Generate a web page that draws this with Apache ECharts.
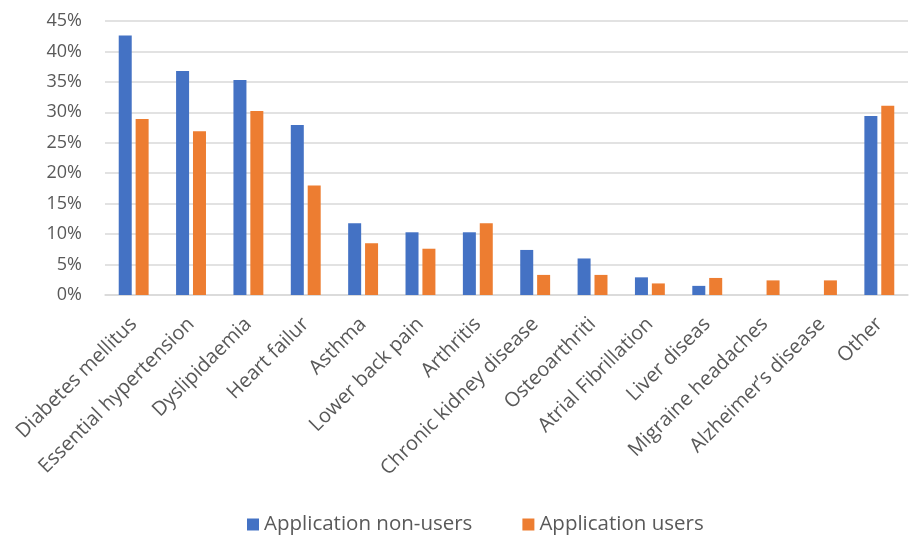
<!DOCTYPE html>
<html>
<head>
<meta charset="utf-8">
<title>Conditions by application use</title>
<script src="https://cdn.jsdelivr.net/npm/echarts@6/dist/echarts.min.js"></script>
<style>
  html, body { margin: 0; padding: 0; background: #fff; }
  #chart { width: 909px; height: 540px; }
</style>
</head>
<body>
<div id="chart"></div>
<script>
// categories on the x axis
var categories = [
  'Diabetes mellitus', 'Essential hypertension', 'Dyslipidaemia', 'Heart failur',
  'Asthma', 'Lower back pain', 'Arthritis', 'Chronic kidney disease',
  'Osteoarthriti', 'Atrial Fibrillation', 'Liver diseas', 'Migraine headaches',
  'Alzheimer\u2019s disease', 'Other'
];
// share of patients, in %
var nonUsers = [42.6, 36.8, 35.3, 27.9, 11.8, 10.3, 10.3, 7.4, 6.0, 2.9, 1.5, 0, 0, 29.4];
var users    = [28.9, 26.9, 30.2, 18.0, 8.5, 7.6, 11.8, 3.3, 3.3, 1.9, 2.8, 2.4, 2.4, 31.1];

var textColor = '#595959';
var fontName = 'Open Sans';

var chart = echarts.init(document.getElementById('chart'));

var option = {
  animation: false,
  backgroundColor: '#ffffff',
  textStyle: { fontFamily: fontName },
  grid: {
    left: 105,
    right: 1,
    top: 21,
    bottom: 245
  },
  legend: {
    bottom: 0,
    left: 242,
    itemWidth: 12,
    itemHeight: 12,
    itemGap: 50,
    icon: 'rect',
    textStyle: { color: textColor, fontSize: 20.5, fontFamily: fontName },
    data: ['Application non-users', 'Application users']
  },
  xAxis: {
    type: 'category',
    data: categories,
    axisLine: { show: true, lineStyle: { color: '#d9d9d9', width: 1.5 } },
    axisTick: { show: false },
    axisLabel: {
      interval: 0,
      rotate: 45,
      margin: 26,
      color: textColor,
      fontSize: 20,
      fontFamily: fontName
    }
  },
  yAxis: {
    type: 'value',
    min: 0,
    max: 45,
    interval: 5,
    axisLine: { show: false },
    axisTick: { show: false },
    axisLabel: {
      formatter: '{value}%',
      color: textColor,
      fontSize: 18,
      margin: 23,
      fontFamily: fontName
    },
    splitLine: { lineStyle: { color: '#d9d9d9', width: 1.5 } }
  },
  series: [
    {
      name: 'Application non-users',
      type: 'bar',
      data: nonUsers,
      barWidth: 13,
      barGap: '30%',
      itemStyle: { color: '#4472C4' }
    },
    {
      name: 'Application users',
      type: 'bar',
      data: users,
      barWidth: 13,
      barGap: '30%',
      itemStyle: { color: '#ED7D31' }
    }
  ]
};

chart.setOption(option);
</script>
</body>
</html>
